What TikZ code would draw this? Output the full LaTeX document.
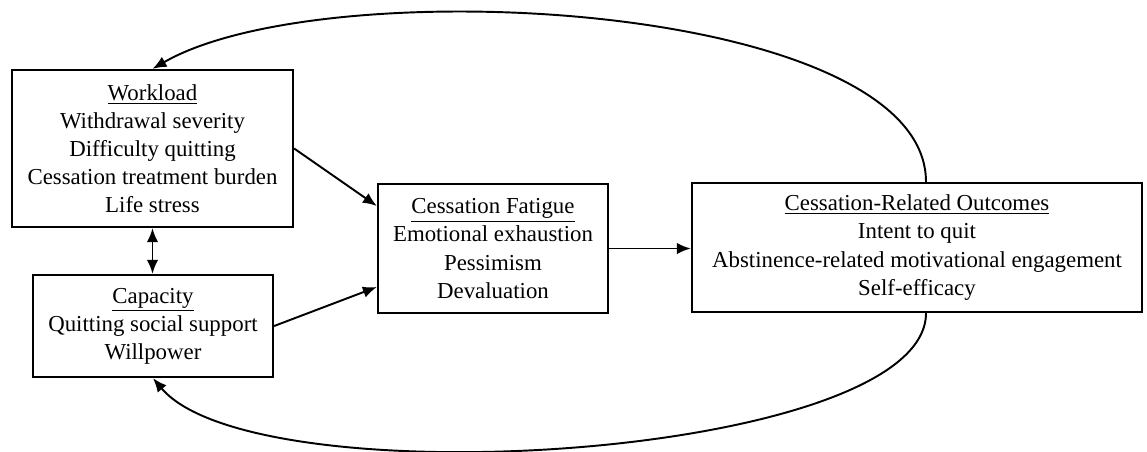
\documentclass[tikz,border=0pt]{standalone}
\usepackage{fontspec}
\setmainfont{Liberation Serif}
\usetikzlibrary{arrows.meta}
\begin{document}
\begin{tikzpicture}[>={Latex[length=2.8mm,width=2.3mm]},
    box/.style={draw, line width=1.3pt, align=center, inner sep=0pt, font=\fontsize{13}{16}\selectfont},
    link/.style={->, line width=1.1pt}]
    \useasboundingbox (0,0) rectangle (22.94,9.02);
    \node[box, minimum width=5.62cm, minimum height=3.14cm] (wl) at (3.05,6.05)
        {\underline{Workload}\\Withdrawal severity\\Difficulty quitting\\Cessation treatment burden\\Life stress};
    \node[box, minimum width=4.80cm, minimum height=2.04cm] (cap) at (3.06,2.50)
        {\underline{Capacity}\\Quitting social support\\Willpower};
    \node[box, minimum width=4.60cm, minimum height=2.58cm] (fat) at (9.86,4.05)
        {\underline{Cessation Fatigue}\\Emotional exhaustion\\Pessimism\\Devaluation};
    \node[box, minimum width=9.00cm, minimum height=2.58cm] (outc) at (18.34,4.07)
        {\underline{Cessation-Related Outcomes}\\Intent to quit\\Abstinence-related motivational engagement\\Self-efficacy};
    \draw[link] (wl.east) -- ([yshift=0.85cm]fat.west);
    \draw[link] (cap.east) -- ([yshift=-0.77cm]fat.west);
    \draw[link] (fat.east) -- (fat.east -| outc.west);
    \draw[link, <->] (wl.south) -- (wl.south |- cap.north);
    \draw[link] ([xshift=0.18cm]outc.north) .. controls +(0,3.6) and +(3.46,2) .. (wl.north);
    \draw[link] ([xshift=0.18cm]outc.south) .. controls +(0,-2.9) and +(2.06,-2.45) .. (cap.south);
\end{tikzpicture}
\end{document}
